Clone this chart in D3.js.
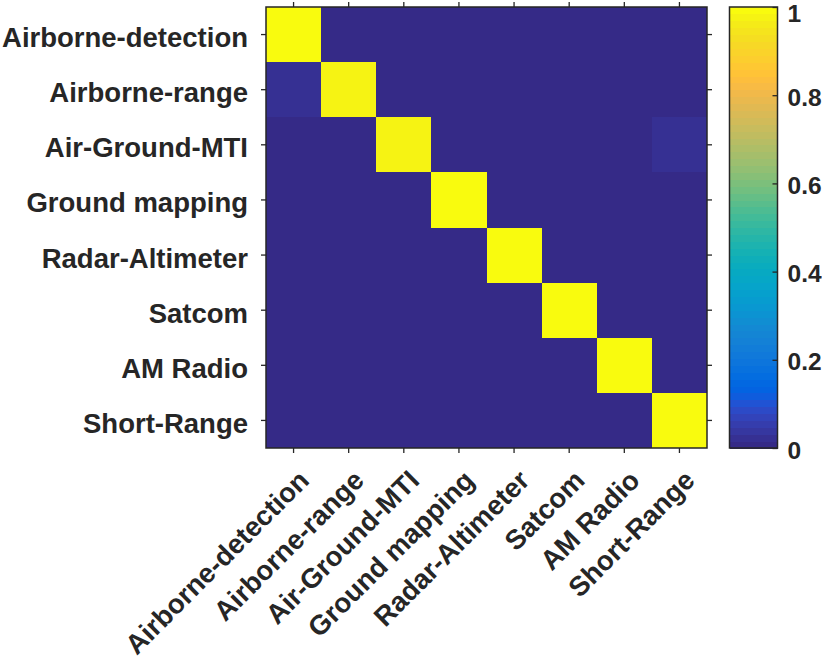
<!DOCTYPE html>
<html>
<head>
<meta charset="utf-8">
<script src="https://cdn.jsdelivr.net/npm/d3@7"></script>
<style>
  html, body { margin: 0; padding: 0; background: #fff; }
  svg { display: block; }
  text { font-family: "Liberation Sans", Arial, Helvetica, sans-serif; font-weight: bold; fill: #262626; }
</style>
</head>
<body>
<svg id="chart" width="822" height="663"></svg>
<script>
// ---- data ----
const categories = ["Airborne-detection", "Airborne-range", "Air-Ground-MTI", "Ground mapping",
                    "Radar-Altimeter", "Satcom", "AM Radio", "Short-Range"];
// confusion matrix rows (true class) x columns (predicted class)
const rowAirborneDetection = [1.00, 0, 0, 0, 0, 0, 0, 0];
const rowAirborneRange     = [0.03, 0.97, 0, 0, 0, 0, 0, 0];
const rowAirGroundMTI      = [0, 0, 0.98, 0, 0, 0, 0, 0.02];
const rowGroundMapping     = [0, 0, 0, 1.00, 0, 0, 0, 0];
const rowRadarAltimeter    = [0, 0, 0, 0, 1.00, 0, 0, 0];
const rowSatcom            = [0, 0, 0, 0, 0, 1.00, 0, 0];
const rowAMRadio           = [0, 0, 0, 0, 0, 0, 1.00, 0];
const rowShortRange        = [0, 0, 0, 0, 0, 0, 0, 1.00];
const matrix = [rowAirborneDetection, rowAirborneRange, rowAirGroundMTI, rowGroundMapping,
                rowRadarAltimeter, rowSatcom, rowAMRadio, rowShortRange];
const colorbarTicks = [0, 0.2, 0.4, 0.6, 0.8, 1];

// parula colormap (64 entries)
const parula = [
[0.2081,0.1663,0.5292],[0.2116,0.1898,0.5777],[0.2123,0.2138,0.6270],[0.2081,0.2386,0.6771],
[0.1959,0.2645,0.7279],[0.1707,0.2919,0.7792],[0.1253,0.3242,0.8303],[0.0591,0.3598,0.8683],
[0.0117,0.3875,0.8820],[0.0060,0.4086,0.8828],[0.0165,0.4266,0.8786],[0.0329,0.4430,0.8720],
[0.0498,0.4586,0.8641],[0.0629,0.4737,0.8554],[0.0723,0.4887,0.8467],[0.0779,0.5040,0.8384],
[0.0793,0.5200,0.8312],[0.0749,0.5375,0.8263],[0.0641,0.5570,0.8240],[0.0488,0.5772,0.8228],
[0.0343,0.5966,0.8199],[0.0265,0.6137,0.8135],[0.0239,0.6287,0.8038],[0.0231,0.6418,0.7913],
[0.0228,0.6535,0.7768],[0.0267,0.6642,0.7607],[0.0384,0.6743,0.7436],[0.0590,0.6838,0.7254],
[0.0843,0.6928,0.7062],[0.1133,0.7015,0.6859],[0.1453,0.7098,0.6646],[0.1801,0.7177,0.6424],
[0.2178,0.7250,0.6193],[0.2586,0.7317,0.5954],[0.3022,0.7376,0.5712],[0.3482,0.7424,0.5473],
[0.3953,0.7459,0.5244],[0.4420,0.7481,0.5033],[0.4871,0.7491,0.4840],[0.5300,0.7491,0.4661],
[0.5709,0.7485,0.4494],[0.6099,0.7473,0.4337],[0.6473,0.7456,0.4188],[0.6834,0.7435,0.4044],
[0.7184,0.7411,0.3905],[0.7525,0.7384,0.3768],[0.7858,0.7356,0.3633],[0.8185,0.7327,0.3498],
[0.8507,0.7299,0.3360],[0.8824,0.7274,0.3217],[0.9139,0.7258,0.3063],[0.9450,0.7261,0.2886],
[0.9739,0.7314,0.2666],[0.9938,0.7455,0.2403],[0.9990,0.7653,0.2164],[0.9955,0.7861,0.1967],
[0.9880,0.8066,0.1794],[0.9789,0.8271,0.1633],[0.9697,0.8481,0.1475],[0.9626,0.8705,0.1309],
[0.9589,0.8949,0.1132],[0.9598,0.9218,0.0948],[0.9661,0.9514,0.0755],[0.9763,0.9831,0.0538]
].map(c => d3.rgb(c[0]*255, c[1]*255, c[2]*255).formatHex());

// ---- layout ----
const plot = { left: 266, right: 707, top: 7, bottom: 448 };
const cb = { left: 729.5, right: 777.5, top: 7, bottom: 448 };
const axisColor = "#262626";
const fontSize = 27.5;

const svg = d3.select("#chart");

const x = d3.scaleBand().domain(categories).range([plot.left, plot.right]);
const y = d3.scaleBand().domain(categories).range([plot.top, plot.bottom]);
const color = d3.scaleQuantize().domain([0, 1]).range(parula);

// background (value 0) then cells
svg.append("rect")
  .attr("x", plot.left).attr("y", plot.top)
  .attr("width", plot.right - plot.left).attr("height", plot.bottom - plot.top)
  .attr("fill", color(0));

const cells = [];
matrix.forEach((row, i) => row.forEach((v, j) => cells.push({ r: categories[i], c: categories[j], v })));
svg.append("g").attr("shape-rendering", "crispEdges")
  .selectAll("rect").data(cells).join("rect")
  .attr("x", d => x(d.c)).attr("y", d => y(d.r))
  .attr("width", x.bandwidth()).attr("height", y.bandwidth())
  .attr("fill", d => color(d.v));

// axes
function styleAxis(g) {
  g.select(".domain").remove();
  g.selectAll(".tick line").attr("stroke", axisColor).attr("stroke-width", 1.3);
  g.selectAll(".tick text").style("font-size", fontSize + "px").attr("fill", axisColor);
}

const gBottom = svg.append("g").attr("transform", `translate(0,${plot.bottom})`)
  .call(d3.axisBottom(x).tickSize(5).tickSizeOuter(0)).call(styleAxis);
gBottom.selectAll(".tick text")
  .attr("y", 0).attr("dy", 0)
  .attr("transform", "translate(17,34) rotate(-45)")
  .style("text-anchor", "end");

svg.append("g").attr("transform", `translate(0,${plot.top})`)
  .call(d3.axisTop(x).tickSize(5).tickSizeOuter(0).tickFormat(""))
  .call(styleAxis);

const gLeft = svg.append("g").attr("transform", `translate(${plot.left},0)`)
  .call(d3.axisLeft(y).tickSize(5).tickPadding(13).tickSizeOuter(0)).call(styleAxis);
gLeft.selectAll(".tick text").attr("dy", "12.5px");

svg.append("g").attr("transform", `translate(${plot.right},0)`)
  .call(d3.axisRight(y).tickSize(5).tickSizeOuter(0).tickFormat(""))
  .call(styleAxis);

svg.append("rect")
  .attr("x", plot.left).attr("y", plot.top)
  .attr("width", plot.right - plot.left).attr("height", plot.bottom - plot.top)
  .attr("fill", "none").attr("stroke", axisColor).attr("stroke-width", 1.5);

// colorbar
const cbScale = d3.scaleLinear().domain([0, 1]).range([cb.bottom, cb.top]);
const n = parula.length;
svg.append("g").attr("shape-rendering", "crispEdges")
  .selectAll("rect").data(parula).join("rect")
  .attr("x", cb.left).attr("width", cb.right - cb.left)
  .attr("y", (c, i) => cbScale((i + 1) / n))
  .attr("height", (c, i) => cbScale(i / n) - cbScale((i + 1) / n) + 0.6)
  .attr("fill", c => c);

const gCb = svg.append("g").attr("transform", `translate(${cb.right},0)`)
  .call(d3.axisRight(cbScale).tickValues(colorbarTicks).tickFormat(d3.format("~g"))
        .tickSizeInner(-5).tickSizeOuter(0).tickPadding(10))
  .call(styleAxis);
gCb.selectAll(".tick text").style("font-size", "24.5px")
  .attr("dy", d => d === 1 ? "14px" : "10px");

svg.append("rect")
  .attr("x", cb.left).attr("y", cb.top)
  .attr("width", cb.right - cb.left).attr("height", cb.bottom - cb.top)
  .attr("fill", "none").attr("stroke", axisColor).attr("stroke-width", 1.5);
</script>
</body>
</html>
